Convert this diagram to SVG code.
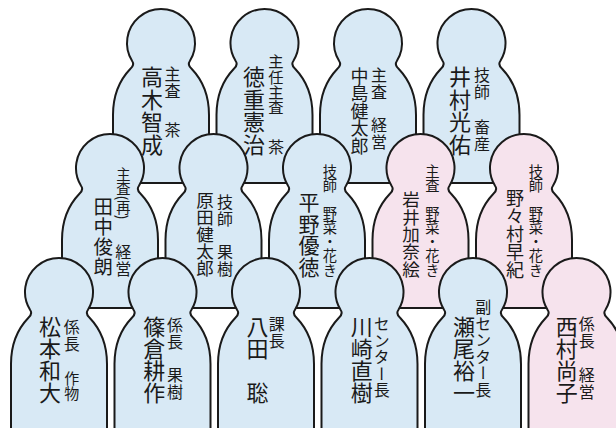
<svg xmlns="http://www.w3.org/2000/svg" xmlns:xlink="http://www.w3.org/1999/xlink" width="616" height="428" viewBox="0 0 616 428">
<style>
.blue{fill:#d8e9f5}
.pink{fill:#f6e3ed}
.fig{stroke:#1a1a1a;stroke-width:2;stroke-linejoin:round}
text{font-family:"Noto Sans CJK JP","Noto Sans CJK SC",sans-serif;fill:#1a1a1a;writing-mode:vertical-rl;text-orientation:mixed}
.nm{font-size:22px;letter-spacing:0.5px}
.nm3{font-size:22px;letter-spacing:0px}
.n5{font-size:18px;letter-spacing:-0.5px}
.tt{font-size:16px;letter-spacing:0.5px}
.ts{font-size:14.3px;letter-spacing:0px}
</style>
<defs>
<path id="person" d="M-48,140 V72 A48,60 0 0 1 -30.8,26 Q-26.1,21.8 -28.85,18 A34,34 0 1 1 28.85,18 Q26.1,21.8 30.8,26 A48,60 0 0 1 48,72 V140 Z"/>
</defs>
<rect width="616" height="428" fill="#ffffff"/>

<!-- Row 1 -->
<g id="takagi">
<use href="#person" x="161" y="43" class="fig blue"/>
<text class="nm" x="152" y="66">高木智成</text>
<text class="tt" x="172.5" y="66">主査</text>
<text class="tt" x="172.5" y="122">茶</text>
</g>
<g id="tokushige">
<use href="#person" x="264.5" y="43" class="fig blue"/>
<text class="nm" x="254" y="66">徳重憲治</text>
<text class="tt" x="276" y="54" style="font-size:15.3px;letter-spacing:0px">主任主査</text>
<text class="tt" x="276" y="139">茶</text>
</g>
<g id="nakashima">
<use href="#person" x="368" y="43" class="fig blue"/>
<text class="n5" x="359.5" y="67">中島健太郎</text>
<text class="tt" x="379" y="67">主査</text>
<text class="tt" x="379" y="117">経営</text>
</g>
<g id="imura">
<use href="#person" x="471.5" y="43" class="fig blue"/>
<text class="nm" x="460" y="66">井村光佑</text>
<text class="tt" x="482" y="67">技師</text>
<text class="tt" x="482" y="119">畜産</text>
</g>

<!-- Row 2 -->
<g id="tanaka">
<use href="#person" x="110" y="168" class="fig blue"/>
<text x="103.3" y="196.5" style="font-size:19.5px;letter-spacing:0.5px">田中俊朗</text>
<text class="ts" x="123.3" y="167">主査(再)</text>
<text class="tt" x="123.3" y="244">経営</text>
</g>
<g id="harada">
<use href="#person" x="213.5" y="168" class="fig blue"/>
<text x="205" y="192" style="font-size:17.5px;letter-spacing:-0.5px">原田健太郎</text>
<text class="tt" x="225" y="194">技師</text>
<text class="tt" x="225" y="244">果樹</text>
</g>
<g id="hirano">
<use href="#person" x="317" y="168" class="fig blue"/>
<text x="309" y="192" style="font-size:21px;letter-spacing:0.5px">平野優徳</text>
<text class="ts" x="330" y="164">技師</text>
<text class="ts" x="330" y="206">野菜・花き</text>
</g>
<g id="iwai">
<use href="#person" x="420.5" y="168" class="fig pink"/>
<text x="411" y="191" style="font-size:17.5px;letter-spacing:-0.2px">岩井加奈絵</text>
<text class="ts" x="432.5" y="164">主査</text>
<text class="ts" x="432.5" y="206">野菜・花き</text>
</g>
<g id="nonomura">
<use href="#person" x="524" y="168" class="fig pink"/>
<text x="515" y="189" style="font-size:18px;letter-spacing:0px">野々村早紀</text>
<text class="ts" x="536" y="164">技師</text>
<text class="ts" x="536" y="206">野菜・花き</text>
</g>

<!-- Row 3 -->
<g id="matsumoto">
<use href="#person" x="59" y="292" class="fig blue"/>
<text class="nm3" x="50" y="316">松本和大</text>
<text class="tt" x="71.7" y="319">係長</text>
<text class="tt" x="71.7" y="371" style="font-size:15px;letter-spacing:0px">作物</text>
</g>
<g id="shinokura">
<use href="#person" x="162.5" y="292" class="fig blue"/>
<text class="nm3" x="154.2" y="316">篠倉耕作</text>
<text class="tt" x="175" y="317">係長</text>
<text class="tt" x="175" y="367">果樹</text>
</g>
<g id="hatta">
<use href="#person" x="266" y="292" class="fig blue"/>
<text class="nm3" x="257.5" y="316">八田</text>
<text class="nm3" x="257.5" y="382">聡</text>
<text class="tt" x="276.7" y="316">課長</text>
</g>
<g id="kawasaki">
<use href="#person" x="369.5" y="292" class="fig blue"/>
<text class="nm3" x="361.7" y="316">川崎直樹</text>
<text class="tt" x="381.7" y="316">センター長</text>
</g>
<g id="seo">
<use href="#person" x="473" y="292" class="fig blue"/>
<text class="nm3" x="464" y="316">瀬尾裕一</text>
<text class="tt" x="483.3" y="299">副センター長</text>
</g>
<g id="nishimura">
<use href="#person" x="576.5" y="292" class="fig pink"/>
<text class="nm3" x="566.7" y="316">西村尚子</text>
<text class="tt" x="586.7" y="316">係長</text>
<text class="tt" x="586.7" y="367">経営</text>
</g>
</svg>
